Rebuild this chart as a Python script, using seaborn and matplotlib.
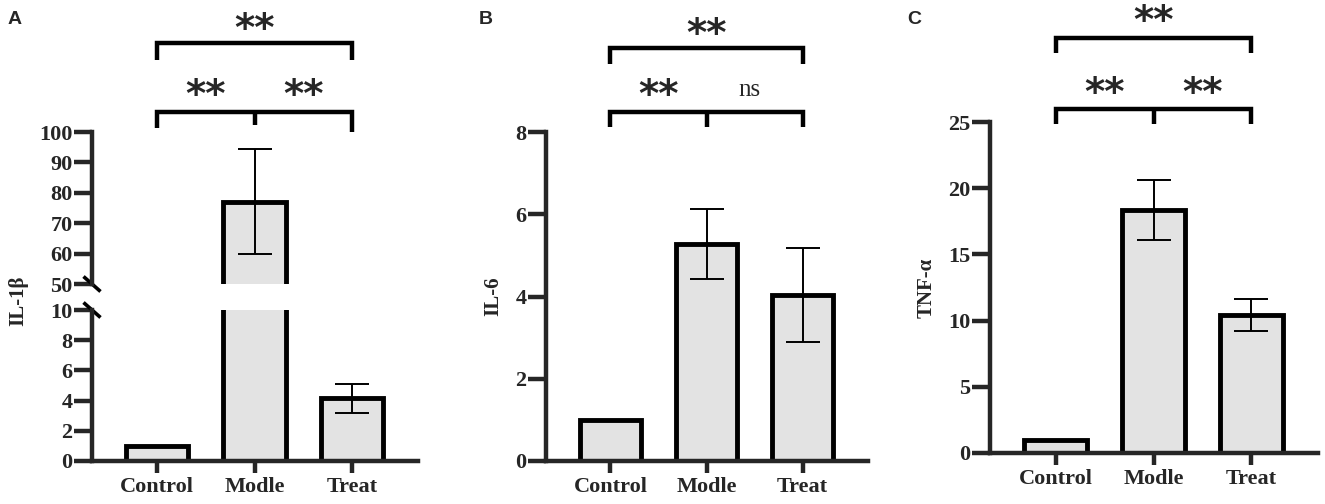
import numpy as np
import seaborn as sns
import matplotlib.pyplot as plt
from matplotlib.transforms import blended_transform_factory

groups = ["Control", "Modle", "Treat"]
il1b_mean = [1.0, 77.1, 4.15]
il1b_sd = [0.0, 17.3, 0.95]
il6_mean = [1.0, 5.28, 4.04]
il6_sd = [0.0, 0.85, 1.14]
tnf_mean = [1.0, 18.35, 10.4]
tnf_sd = [0.0, 2.25, 1.2]

il1b_low_ticks = [0, 2, 4, 6, 8, 10]
il1b_high_ticks = [50, 60, 70, 80, 90, 100]
il6_ticks = [0, 2, 4, 6, 8]
tnf_ticks = [0, 5, 10, 15, 20, 25]

W, H = 1325, 504
BAR_FILL = "#e3e3e3"
SERIF = "Liberation Serif"
SANS = "Liberation Sans"
STAR_FONT = "DejaVu Sans"

sns.set_style("ticks")
plt.rcParams["font.family"] = [SERIF, "DejaVu Sans"]

fig = plt.figure(figsize=(W / 100, H / 100), dpi=100)


def px_axes(left, top, right, bottom):
    # axes rectangle given in pixel coordinates of the reference
    return fig.add_axes([left / W, (H - bottom) / H, (right - left) / W, (bottom - top) / H])


def draw_bars(ax, means, sds):
    sns.barplot(x=groups, y=means, color=BAR_FILL, saturation=1, edgecolor="black",
                linewidth=3.5, width=0.64, ax=ax)
    idx = [i for i, s in enumerate(sds) if s > 0]
    ax.errorbar(idx, [means[i] for i in idx], yerr=[sds[i] for i in idx],
                fmt="none", ecolor="black", elinewidth=1.4, capsize=12, capthick=1.4, zorder=5)
    ax.set_xlim(-0.67, 2.68)
    ax.set_xlabel("")
    ax.set_ylabel("")


def style_axes(ax):
    for side in ["top", "right"]:
        ax.spines[side].set_visible(False)
    for side in ["left", "bottom"]:
        ax.spines[side].set_linewidth(3.2)
    ax.tick_params(axis="both", width=3.2, labelsize=16)
    ax.tick_params(axis="y", length=13, pad=1)
    ax.tick_params(axis="x", length=8.5, pad=3)
    for lab in ax.get_xticklabels() + ax.get_yticklabels():
        lab.set_fontweight("bold")
        lab.set_fontfamily(SERIF)


def fy(py):
    return 1 - py / H


def bracket(ax, x0, x1, y_line, legs, mid=None):
    tr = blended_transform_factory(ax.transData, fig.transFigure)
    ax.plot([x0, x0, x1, x1], [fy(legs[0]), fy(y_line), fy(y_line), fy(legs[1])],
            color="black", lw=3.2, transform=tr, clip_on=False,
            solid_joinstyle="miter", solid_capstyle="butt")
    if mid is not None:
        ax.plot([mid[0], mid[0]], [fy(y_line), fy(mid[1])], color="black", lw=3.2,
                transform=tr, clip_on=False, solid_capstyle="butt")


def mark(ax, x, py, txt="**"):
    # py is the vertical centre of the glyphs, in reference pixels from the top
    tr = blended_transform_factory(ax.transData, fig.transFigure)
    if txt == "**":
        size = 28
        base = py + 0.48 * size * 100 / 72
        ax.text(x, fy(base), txt, transform=tr, ha="center", va="baseline",
                fontsize=size, fontweight="bold", family=STAR_FONT, clip_on=False)
    else:
        size = 18
        base = py + 0.23 * size * 100 / 72
        ax.text(x, fy(base), txt, transform=tr, ha="center", va="baseline",
                fontsize=size, family=SERIF, clip_on=False)


# ---- panel A: broken axis ----
axA_top = px_axes(92, 132, 418, 284)
axA_bot = px_axes(92, 310, 418, 461)
draw_bars(axA_top, il1b_mean, il1b_sd)
draw_bars(axA_bot, il1b_mean, il1b_sd)
axA_top.set_ylim(50, 100)
axA_bot.set_ylim(0, 10)
axA_top.set_yticks(il1b_high_ticks)
axA_bot.set_yticks(il1b_low_ticks)
style_axes(axA_top)
style_axes(axA_bot)
axA_top.spines["bottom"].set_visible(False)
axA_top.tick_params(axis="x", bottom=False, labelbottom=False)

# break marks on the y axis
for ax, h in [(axA_top, 152), (axA_bot, 151)]:
    y0 = 0 if ax is axA_top else 1
    ax.plot([-8.5 / 326, 8.5 / 326], [y0 + 7.5 / h, y0 - 7.5 / h], color="black", lw=2.6,
            transform=ax.transAxes, clip_on=False, solid_capstyle="butt")

axA_bot.set_ylabel("IL-1β", fontsize=15, fontweight="bold", family=SERIF)
axA_bot.yaxis.set_label_coords(-0.195, 1.06)

bracket(axA_top, 0, 2, 112, (128, 132), mid=(1, 125))
bracket(axA_top, 0, 2, 43, (60, 60))
mark(axA_top, 0.5, 88)
mark(axA_top, 1.5, 88)
mark(axA_top, 1, 22)

# ---- panel B ----
axB = px_axes(546, 132, 868, 461)
draw_bars(axB, il6_mean, il6_sd)
axB.set_ylim(0, 8)
axB.set_yticks(il6_ticks)
style_axes(axB)
axB.set_ylabel("IL-6", fontsize=15, fontweight="bold", family=SERIF)
axB.yaxis.set_label_coords(-0.133, 0.5)
bracket(axB, 0, 2, 112, (127, 127), mid=(1, 127))
bracket(axB, 0, 2, 48, (64, 64))
mark(axB, 0.5, 88)
mark(axB, 1.45, 90, "ns")
mark(axB, 1, 27)

# ---- panel C ----
axC = px_axes(990, 122, 1318, 453)
draw_bars(axC, tnf_mean, tnf_sd)
axC.set_ylim(0, 25)
axC.set_yticks(tnf_ticks)
style_axes(axC)
axC.set_ylabel("TNF-α", fontsize=15, fontweight="bold", family=SERIF)
axC.yaxis.set_label_coords(-0.162, 0.5)
bracket(axC, 0, 2, 109, (124, 124), mid=(1, 124))
bracket(axC, 0, 2, 38, (53, 53))
mark(axC, 0.5, 86)
mark(axC, 1.5, 86)
mark(axC, 1, 14)

# panel letters
for letter, px in [("A", 8), ("B", 479), ("C", 907)]:
    fig.text(px / W, fy(24), letter, fontsize=14, fontweight="bold", family=SANS,
             ha="left", va="baseline")

fig.savefig("out.png", dpi=100)
